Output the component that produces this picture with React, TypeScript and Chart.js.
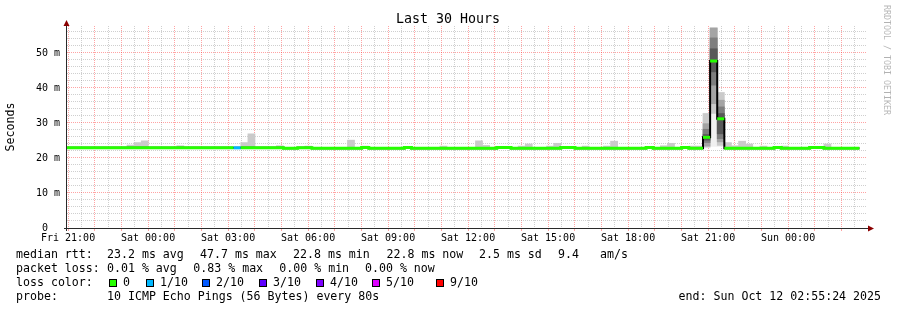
import { useEffect, useRef } from 'react';
import { Chart, registerables } from 'chart.js';

Chart.register(...registerables);

const FONT = '"DejaVu Sans Mono", monospace';

// ---- time axis (hours counted from Fri 00:00) ----
const X_START = 20.96;
const X_END = 50.96;
const BIN_START = 20.81; // start of first 16-minute bin
const BIN_HOURS = 16 / 60;

const xTickHours = [21, 24, 27, 30, 33, 36, 39, 42, 45, 48];
const xTickLabels = ['Fri 21:00', 'Sat 00:00', 'Sat 03:00', 'Sat 06:00', 'Sat 09:00', 'Sat 12:00', 'Sat 15:00', 'Sat 18:00', 'Sat 21:00', 'Sun 00:00'];
const yTickValues = [0, 10, 20, 30, 40, 50];
const yTickLabels = ['0  ', '10 m', '20 m', '30 m', '40 m', '50 m'];
const Y_MAX = 57.7;

// ---- median RTT per bin (ms) ----
const medianRtt = [
  22.9, 22.9, 22.9, 22.9, 22.9, 22.9, 22.9, 22.9, 22.9, 22.9,
  22.9, 22.9, 22.9, 22.9, 22.9, 22.9, 22.9, 22.9, 22.9, 22.9,
  22.9, 22.9, 22.9, 22.9, 22.9, 22.9, 22.9, 22.9, 22.9, 22.9,
  22.9, 22.8, 22.8, 22.9, 22.9, 22.8, 22.8, 22.8, 22.8, 22.8,
  22.8, 22.8, 23.0, 22.8, 22.8, 22.8, 22.8, 22.8, 23.0, 22.8,
  22.8, 22.8, 22.8, 22.8, 22.8, 22.8, 22.8, 22.8, 22.8, 22.8,
  22.8, 23.0, 23.0, 22.8, 22.8, 22.8, 22.8, 22.8, 22.8, 22.8,
  23.0, 23.0, 22.8, 22.8, 22.8, 22.8, 22.8, 22.8, 22.8, 22.8,
  22.8, 22.8, 23.0, 22.8, 22.8, 22.8, 22.8, 23.0, 22.8, 22.8,
  25.9, 47.7, 31.2, 22.8, 22.8, 22.8, 22.8, 22.8, 22.8, 22.8,
  23.0, 22.8, 22.8, 22.8, 22.8, 23.0, 23.0, 22.8, 22.8, 22.8,
  22.8, 22.8,
];

// ---- packet loss (pings lost out of 10) ----
const lossBins = [24];
const lossCounts = [1];

// ---- smoke: small spreads above the median ----
const smokeBumpBins = [9, 10, 11, 16, 25, 26, 30, 34, 40, 42, 53, 58, 59, 64, 65, 68, 69, 73, 76, 77, 84, 85, 88, 89, 93, 94, 95, 96, 98, 101, 107];
const smokeBumpTops = [23.7, 24.4, 24.9, 23.5, 24.4, 26.9, 23.5, 23.4, 25.1, 23.4, 23.4, 24.9, 23.6, 23.4, 24.0, 23.4, 24.2, 23.4, 23.4, 24.8, 23.5, 24.2, 23.4, 23.4, 24.4, 23.5, 24.8, 24.0, 23.4, 23.4, 24.0];

// ---- smoke: sorted pings of the spike bins (ms) ----
const spikeBins = [90, 91, 92];
const spikePings = [
  [22.9, 23.1, 23.4, 24.4, 25.1, 26.7, 28.2, 29.8, 32.7, 32.8],
  [23.3, 32.7, 35.5, 40.8, 44.6, 51.2, 54.3, 57.1, 57.2, 57.3],
  [23.3, 23.6, 24.6, 25.5, 26.9, 32.7, 34.6, 36.5, 38.7, 38.8],
];

// ---- legend texts ----
const titleText = 'Last 30 Hours';
const rttStats = ['median rtt:', '23.2 ms avg', '47.7 ms max', '22.8 ms min', '22.8 ms now', '2.5 ms sd', '9.4', 'am/s'];
const lossStats = ['packet loss:', '0.01 % avg', '0.83 % max', '0.00 % min', '0.00 % now'];
const lossColorTitle = 'loss color:';
const lossLabels = ['0', '1/10', '2/10', '3/10', '4/10', '5/10', '9/10'];
const lossColors = ['#26ff00', '#00b8ff', '#0059ff', '#5e00ff', '#7e00ff', '#dd00ff', '#ff0000'];
const probeTexts = ['probe:', '10 ICMP Echo Pings (56 Bytes) every 80s'];
const endText = 'end: Sun Oct 12 02:55:24 2025';
const watermark = 'RRDTOOL / TOBI OETIKER';

// ---- styles ----
const SMOKE_SHADES = ['#f0f0f0', '#cacaca', '#a4a4a4', '#7e7e7e', '#585858'];
const GRID_MINOR = 'rgba(140,140,140,0.42)';
const GRID_MAJOR = 'rgba(255,0,0,0.36)';
const AXIS_COLOR = '#2a2a2a';
const ARROW_COLOR = '#8b0000';
const LEGEND_FONT = `11.6px ${FONT}`;

const rttX = [16, 107, 200, 293, 386.5, 479, 558, 600];
const lossX = [16, 107, 193.3, 279.3, 365];
const boxX = [109, 146, 202, 259, 316, 372, 436];
const rowY = [258, 272, 286, 300];

const decorPlugin = {
  id: 'decor',
  afterDraw(chart: any) {
    const ctx: CanvasRenderingContext2D = chart.ctx;
    const { left, right, top, bottom } = chart.chartArea;
    ctx.save();
    // axes
    ctx.strokeStyle = AXIS_COLOR;
    ctx.lineWidth = 1;
    ctx.beginPath();
    ctx.moveTo(left - 3, bottom + 0.5);
    ctx.lineTo(right + 2, bottom + 0.5);
    ctx.moveTo(left - 0.5, bottom + 3);
    ctx.lineTo(left - 0.5, top - 2);
    ctx.stroke();
    // arrows
    ctx.fillStyle = ARROW_COLOR;
    ctx.beginPath();
    ctx.moveTo(left - 0.5, top - 6);
    ctx.lineTo(left - 3.5, top);
    ctx.lineTo(left + 2.5, top);
    ctx.closePath();
    ctx.fill();
    ctx.beginPath();
    ctx.moveTo(right + 7, bottom + 0.5);
    ctx.lineTo(right + 1, bottom - 2.5);
    ctx.lineTo(right + 1, bottom + 3.5);
    ctx.closePath();
    ctx.fill();

    // title
    ctx.fillStyle = '#000';
    ctx.font = `13.3px ${FONT}`;
    ctx.textAlign = 'center';
    ctx.textBaseline = 'alphabetic';
    ctx.fillText(titleText, 448, 23);

    // watermark
    ctx.save();
    ctx.translate(886.5, 5);
    ctx.rotate(Math.PI / 2);
    ctx.font = `8.3px ${FONT}`;
    ctx.fillStyle = 'rgba(0,0,0,0.3)';
    ctx.textAlign = 'left';
    ctx.textBaseline = 'middle';
    ctx.fillText(watermark, 0, 0);
    ctx.restore();

    // legend
    ctx.font = LEGEND_FONT;
    ctx.textAlign = 'left';
    ctx.textBaseline = 'alphabetic';
    ctx.fillStyle = '#000';
    rttStats.forEach((t, i) => ctx.fillText(t, rttX[i], rowY[0]));
    lossStats.forEach((t, i) => ctx.fillText(t, lossX[i], rowY[1]));
    ctx.fillText(lossColorTitle, 16, rowY[2]);
    lossLabels.forEach((t, i) => {
      ctx.fillStyle = lossColors[i];
      ctx.fillRect(boxX[i], rowY[2] - 7, 8, 8);
      ctx.strokeStyle = '#000';
      ctx.strokeRect(boxX[i] + 0.5, rowY[2] - 6.5, 7, 7);
      ctx.fillStyle = '#000';
      ctx.fillText(t, boxX[i] + 14, rowY[2]);
    });
    ctx.fillText(probeTexts[0], 16, rowY[3]);
    ctx.fillText(probeTexts[1], 107, rowY[3]);
    ctx.textAlign = 'right';
    ctx.fillText(endText, 881, rowY[3]);
    ctx.restore();
  },
};

export default function App() {
  const ref = useRef<HTMLCanvasElement>(null);

  useEffect(() => {
    const canvas = ref.current;
    if (!canvas) return;

    const lossOf = (i: number) => {
      const k = lossBins.indexOf(i);
      return k >= 0 ? lossCounts[k] : 0;
    };
    const colorOfLoss = (n: number) => lossColors[Math.min(n, 6)];
    const binCenter = (i: number) => BIN_START + (i + 0.5) * BIN_HOURS;

    const medianPts = medianRtt.flatMap((m, i) => [
      { x: BIN_START + i * BIN_HOURS, y: m },
      { x: BIN_START + (i + 1) * BIN_HOURS, y: m },
    ]);

    const smokeDatasets = SMOKE_SHADES.map((shade, k) => {
      const data: any[] = spikeBins.map((b, j) => ({ x: binCenter(b), y: [spikePings[j][k], spikePings[j][9 - k]] }));
      if (k === 1) {
        smokeBumpBins.forEach((b, j) => data.push({ x: binCenter(b), y: [medianRtt[b], smokeBumpTops[j]] }));
      }
      return {
        type: 'bar',
        data,
        backgroundColor: shade,
        borderWidth: 0,
        grouped: false,
        barPercentage: 1,
        categoryPercentage: 1,
        order: 10 - k,
        clip: 0,
      };
    });

    const chart = new Chart(canvas, {
      type: 'bar',
      data: {
        datasets: [
          {
            type: 'line',
            data: medianPts,
            borderColor: lossColors[0],
            borderWidth: 3,
            pointRadius: 0,
            tension: 0,
            fill: false,
            order: 0,
            clip: 0,
            borderCapStyle: 'butt',
            segment: {
              borderColor: (c: any) => {
                const a = c.p0.parsed;
                const b = c.p1.parsed;
                if (Math.abs(a.x - b.x) < 1e-9) {
                  return Math.abs(a.y - b.y) > 0.5 ? 'rgba(0,0,0,0)' : lossColors[0];
                }
                return colorOfLoss(lossOf(Math.floor(c.p0DataIndex / 2)));
              },
            },
          } as any,
          {
            type: 'line',
            data: medianPts,
            borderColor: '#000',
            borderWidth: 2,
            pointRadius: 0,
            tension: 0,
            fill: false,
            order: 1,
            clip: 0,
          } as any,
          ...(smokeDatasets as any[]),
        ],
      },
      options: {
        responsive: false,
        animation: false,
        events: [],
        devicePixelRatio: 1,
        layout: { padding: { left: 0, right: 30, top: 26, bottom: 0 } },
        plugins: { legend: { display: false }, title: { display: false }, tooltip: { enabled: false } },
        scales: {
          x: {
            type: 'linear',
            min: X_START,
            max: X_END,
            offset: false,
            border: { display: false, dash: [1, 1] },
            grid: {
              offset: false,
              lineWidth: 1,
              color: (c: any) => (c.tick && c.tick.value % 1 === 0 ? GRID_MAJOR : GRID_MINOR),
              drawTicks: true,
              tickLength: 3,
              tickColor: (c: any) => (c.tick && c.tick.value % 1 === 0 ? GRID_MAJOR : 'rgba(0,0,0,0)'),
              tickBorderDash: [],
            },
            ticks: {
              autoSkip: false,
              maxRotation: 0,
              minRotation: 0,
              padding: 1,
              color: '#000',
              font: { family: FONT, size: 10 },
              callback: (v: any) => {
                const i = xTickHours.indexOf(Number(v));
                return i >= 0 ? xTickLabels[i] : '';
              },
            },
            afterBuildTicks: (scale: any) => {
              const ticks = [];
              for (let h = Math.ceil(X_START * 2) / 2; h <= X_END; h += 0.5) ticks.push({ value: h });
              scale.ticks = ticks;
            },
            afterFit: (scale: any) => {
              scale.height = 82;
            },
          },
          y: {
            type: 'linear',
            min: 0,
            max: Y_MAX,
            border: { display: false, dash: [1, 1] },
            grid: {
              lineWidth: 1,
              drawTicks: false,
              color: (c: any) => (c.tick && c.tick.value % 10 === 0 ? GRID_MAJOR : GRID_MINOR),
            },
            ticks: {
              autoSkip: false,
              padding: 7,
              color: '#000',
              font: { family: FONT, size: 10 },
              callback: (v: any) => {
                const i = yTickValues.indexOf(Number(v));
                return i >= 0 ? yTickLabels[i] : '';
              },
            },
            afterBuildTicks: (scale: any) => {
              const ticks = [];
              for (let v = 0; v <= Y_MAX; v += 2) ticks.push({ value: v });
              scale.ticks = ticks;
            },
            afterFit: (scale: any) => {
              scale.width = 67;
            },
            title: {
              display: true,
              text: 'Seconds',
              color: '#000',
              font: { family: FONT, size: 11.6 },
              padding: { top: 4, bottom: 0 },
            },
          },
        },
      } as any,
      plugins: [decorPlugin],
    });

    return () => chart.destroy();
  }, []);

  return (
    <div style={{ position: 'fixed', left: 0, top: 0, width: 897, height: 310, background: '#fff' }}>
      <canvas ref={ref} width={897} height={310} style={{ display: 'block', width: 897, height: 310 }} />
    </div>
  );
}
